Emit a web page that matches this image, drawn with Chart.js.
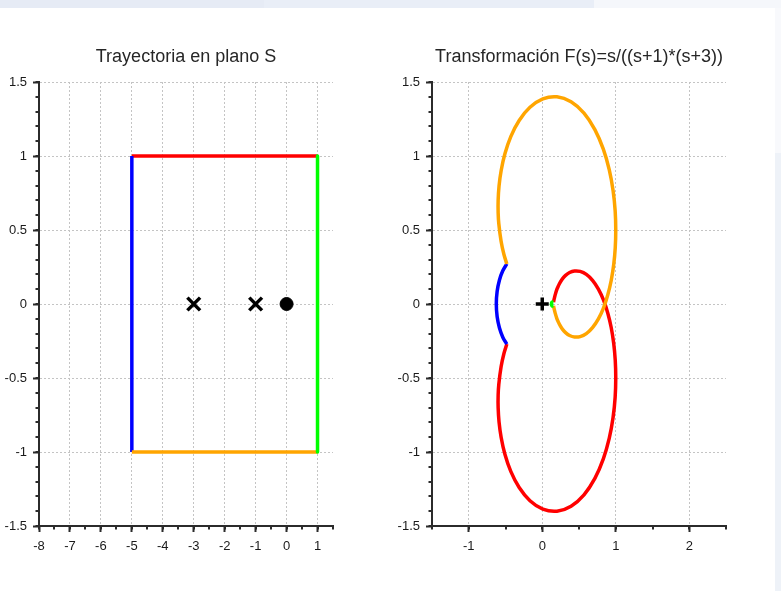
<!DOCTYPE html>
<html>
<head>
<meta charset="utf-8">
<script src="https://cdn.jsdelivr.net/npm/chart.js@4.4.1/dist/chart.umd.min.js"></script>
<style>
  html, body { margin: 0; padding: 0; background: #ffffff; }
  #page { position: relative; width: 781px; height: 591px; overflow: hidden; background: #ffffff; }
  .band { position: absolute; }
  canvas { position: absolute; top: 0; }
</style>
</head>
<body>
<div id="page">
  <div class="band" style="left:0;top:0;width:264px;height:8px;background:#e6ebf5"></div>
  <div class="band" style="left:264px;top:0;width:330px;height:8px;background:#e9eef7"></div>
  <div class="band" style="left:594px;top:0;width:187px;height:8px;background:#f5f7fb"></div>
  <div class="band" style="left:775px;top:8px;width:6px;height:145px;background:#f8f9fc"></div>
  <div class="band" style="left:775px;top:153px;width:6px;height:438px;background:#eef2f8"></div>
  <canvas id="plane" width="390" height="591" style="left:0"></canvas>
  <canvas id="mapped" width="391" height="591" style="left:390px"></canvas>
</div>
<script>
// ---- s-plane contour: rectangle corners for each side ----
const sideTop    = [[-5, 1], [1, 1]];     // red
const sideRight  = [[1, 1], [1, -1]];     // green
const sideBottom = [[-5, -1], [1, -1]];   // orange
const sideLeft   = [[-5, -1], [-5, 1]];   // blue
const polesS = [[-3, 0], [-1, 0]];
const zerosS = [[0, 0]];

// ---- image of each side under F(s) = s/((s+1)(s+3)) ----
const imageTop = [
  [-0.482,-0.271],[-0.522,-0.336],[-0.560,-0.424],[-0.591,-0.542],[-0.600,-0.616],
  [-0.600,-0.700],[-0.588,-0.796],[-0.559,-0.902],[-0.508,-1.015],[-0.428,-1.131],
  [-0.314,-1.240],[-0.167,-1.329],[0.008,-1.386],[0.200,-1.400],[0.392,-1.366],
  [0.568,-1.289],[0.716,-1.178],[0.831,-1.046],[0.912,-0.906],[0.964,-0.765],
  [0.992,-0.629],[1.000,-0.500],[0.993,-0.379],[0.972,-0.265],[0.938,-0.159],
  [0.892,-0.062],[0.834,0.026],[0.764,0.101],[0.684,0.160],[0.600,0.200],
  [0.516,0.220],[0.439,0.223],[0.372,0.213],[0.317,0.193],[0.274,0.170],
  [0.242,0.145],[0.218,0.121],[0.200,0.100],[0.178,0.065],[0.166,0.041],
  [0.158,0.024],[0.153,0.012]
];
const imageBottom = [
  [-0.482,0.271],[-0.522,0.336],[-0.560,0.424],[-0.591,0.542],[-0.600,0.616],
  [-0.600,0.700],[-0.588,0.796],[-0.559,0.902],[-0.508,1.015],[-0.428,1.131],
  [-0.314,1.240],[-0.167,1.329],[0.008,1.386],[0.200,1.400],[0.392,1.366],
  [0.568,1.289],[0.716,1.178],[0.831,1.046],[0.912,0.906],[0.964,0.765],
  [0.992,0.629],[1.000,0.500],[0.993,0.379],[0.972,0.265],[0.938,0.159],
  [0.892,0.062],[0.834,-0.026],[0.764,-0.101],[0.684,-0.160],[0.600,-0.200],
  [0.516,-0.220],[0.439,-0.223],[0.372,-0.213],[0.317,-0.193],[0.274,-0.170],
  [0.242,-0.145],[0.218,-0.121],[0.200,-0.100],[0.178,-0.065],[0.166,-0.041],
  [0.158,-0.024],[0.153,-0.012]
];
const imageLeft = [
  [-0.482,0.271],[-0.537,0.224],[-0.583,0.161],[-0.614,0.085],[-0.625,0],
  [-0.614,-0.085],[-0.583,-0.161],[-0.537,-0.224],[-0.482,-0.271]
];
const imageRight = [[0.153,0.012],[0.134,0.013],[0.125,0],[0.134,-0.013],[0.153,-0.012]];
const originF = [[0, 0]];

// ---- axis ranges, labelled ticks and minor tick spacing ----
const planeX  = { min: -8, max: 1.5, minor: 0.5 };
const mappedX = { min: -1.5, max: 2.5, minor: 0.5 };
const yRange  = { min: -1.5, max: 1.5, minor: 0.1 };
const planeXTicks  = [-8, -7, -6, -5, -4, -3, -2, -1, 0, 1];
const mappedXTicks = [-1, 0, 1, 2];
const yTicks       = [-1.5, -1, -0.5, 0, 0.5, 1, 1.5];

const FONT = "'Liberation Sans', Arial, Helvetica, sans-serif";
const AXIS = '#2b2b2b';
const GRID = '#c4c4c4';
const RED = '#ff0000', GREEN = '#00ff00', BLUE = '#0000ff', ORANGE = '#ffa500';

const pts = arr => arr.map(([x, y]) => ({ x, y }));

// short tick marks between the labelled ones
const minorTicks = {
  id: 'minorTicks',
  afterDraw(chart, args, opts) {
    const ctx = chart.ctx;
    const xs = chart.scales.x, ys = chart.scales.y;
    ctx.save();
    ctx.strokeStyle = AXIS;
    ctx.lineWidth = 2;
    const nx = Math.round((xs.max - xs.min) / opts.xStep);
    for (let i = 0; i <= nx; i++) {
      const px = Math.round(xs.getPixelForValue(xs.min + i * opts.xStep));
      ctx.beginPath();
      ctx.moveTo(px, xs.top);
      ctx.lineTo(px, xs.top + opts.len);
      ctx.stroke();
    }
    const ny = Math.round((ys.max - ys.min) / opts.yStep);
    for (let i = 0; i <= ny; i++) {
      const py = Math.round(ys.getPixelForValue(ys.min + i * opts.yStep));
      ctx.beginPath();
      ctx.moveTo(ys.right, py);
      ctx.lineTo(ys.right - opts.len, py);
      ctx.stroke();
    }
    ctx.restore();
  }
};

function lineSet(data, color) {
  return { data: pts(data), showLine: true, borderColor: color, borderWidth: 3.5,
           pointRadius: 0, tension: 0, fill: false, borderCapStyle: 'butt', borderJoinStyle: 'round' };
}
function curveSet(data, color) {
  const d = lineSet(data, color);
  d.tension = 0.35;
  return d;
}

function buildOptions(title, xr, xTicks, yAxisWidth, yLabelPad, rightPad) {
  const tickFont = { family: FONT, size: 13 };
  return {
    responsive: false,
    animation: false,
    events: [],
    layout: { padding: { left: 0, right: rightPad, top: 0, bottom: 0 } },
    plugins: {
      legend: { display: false },
      tooltip: { enabled: false },
      title: {
        display: true, text: title, fullSize: false, align: 'center',
        color: '#262626', font: { family: FONT, size: 18, weight: 'normal' },
        padding: { top: 46.2, bottom: 14.2 }
      },
      minorTicks: { xStep: xr.minor, yStep: yRange.minor, len: 3.5 }
    },
    scales: {
      x: {
        type: 'linear', position: 'bottom', min: xr.min, max: xr.max,
        afterFit: s => { s.height = 65; },
        afterBuildTicks: s => { s.ticks = xTicks.map(v => ({ value: v })); },
        ticks: { autoSkip: false, maxRotation: 0,
                 padding: 6.5, color: '#1a1a1a', font: tickFont,
                 callback: v => String(v) },
        grid: { color: GRID, lineWidth: 1, drawTicks: true, tickLength: 6, tickColor: AXIS,
                tickWidth: 2, tickBorderDash: [] },
        border: { display: true, color: AXIS, width: 2, dash: [2, 2] }
      },
      y: {
        type: 'linear', position: 'left', min: yRange.min, max: yRange.max,
        afterFit: s => { s.width = yAxisWidth; },
        afterBuildTicks: s => { s.ticks = yTicks.map(v => ({ value: v })); },
        ticks: { autoSkip: false,
                 padding: yLabelPad, color: '#1a1a1a', font: tickFont,
                 callback: v => String(v) },
        grid: { color: GRID, lineWidth: 1, drawTicks: true, tickLength: 6, tickColor: AXIS,
                tickWidth: 2, tickBorderDash: [] },
        border: { display: true, color: AXIS, width: 2, dash: [2, 2] }
      }
    }
  };
}

new Chart(document.getElementById('plane'), {
  type: 'scatter',
  data: {
    datasets: [
      { data: pts(polesS), pointStyle: 'crossRot', pointRadius: 9, borderWidth: 3.5,
        borderColor: '#000', backgroundColor: '#000', showLine: false },
      { data: pts(zerosS), pointStyle: 'circle', pointRadius: 6.5, borderWidth: 1,
        borderColor: '#000', backgroundColor: '#000', showLine: false },
      lineSet(sideRight, GREEN),
      lineSet(sideBottom, ORANGE),
      lineSet(sideLeft, BLUE),
      lineSet(sideTop, RED)
    ]
  },
  options: buildOptions('Trayectoria en plano S', planeX, planeXTicks, 39, 6, 57),
  plugins: [minorTicks]
});

new Chart(document.getElementById('mapped'), {
  type: 'scatter',
  data: {
    datasets: [
      { data: pts(originF), pointStyle: 'cross', pointRadius: 6.5, borderWidth: 3.5,
        borderColor: '#000', backgroundColor: '#000', showLine: false },
      curveSet(imageRight, GREEN),
      curveSet(imageBottom, ORANGE),
      curveSet(imageLeft, BLUE),
      curveSet(imageTop, RED)
    ]
  },
  options: buildOptions('Transformación F(s)=s/((s+1)*(s+3))', mappedX, mappedXTicks, 42, 6, 55),
  plugins: [minorTicks]
});
</script>
</body>
</html>
